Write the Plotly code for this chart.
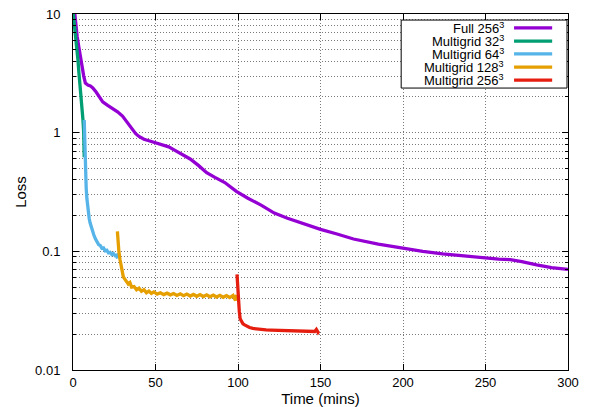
import plotly.graph_objects as go

# ---- data ----
full_t = [0.5, 1.5, 2.5, 3.5, 4.5, 5.5, 6.5, 7.5, 9, 10.5, 12, 14, 16, 18, 21, 24, 27, 30, 33, 36, 38, 40,
          43, 46, 49, 52, 55, 58, 61, 64, 67, 71, 76, 81, 86, 92, 99, 106, 114, 122, 130, 140, 150, 160,
          170, 185, 200, 212, 224, 237, 250, 258, 265, 272, 281, 290, 300]
full_v = [12, 8.5, 6.5, 5.3, 4.3, 3.6, 3.0, 2.62, 2.52, 2.48, 2.38, 2.2, 2.0, 1.82, 1.7, 1.6, 1.5, 1.38,
          1.22, 1.06, 0.98, 0.93, 0.88, 0.855, 0.83, 0.81, 0.79, 0.76, 0.72, 0.68, 0.645, 0.6, 0.53, 0.46,
          0.42, 0.38, 0.32, 0.28, 0.245, 0.21, 0.19, 0.17, 0.153, 0.14, 0.127, 0.115, 0.106, 0.1, 0.095,
          0.091, 0.0875, 0.086, 0.085, 0.082, 0.077, 0.073, 0.0705]

mg32_t = [0, 0.5, 1, 1.5, 2, 2.5, 3, 3.5, 4, 4.5, 5, 5.5, 6, 6.5, 6.8]
mg32_v = [10.5, 9.0, 8.2, 7.0, 6.2, 5.0, 4.1, 3.3, 2.8, 2.3, 1.9, 1.6, 1.3, 1.0, 0.62]

mg64_t = [6.8, 7.0, 7.3, 7.6, 8.0, 8.4, 8.8, 9.3, 9.8, 10.3, 11, 11.8, 12.6, 13.5, 14.5, 15.5, 16.5,
          17.5, 18.5, 19.5, 20.5, 21.5, 22.5, 23.5, 24.5, 25.5, 26.5, 27]
mg64_v = [1.28, 0.95, 0.62, 0.45, 0.34, 0.28, 0.24, 0.215, 0.19, 0.175, 0.16, 0.148, 0.138, 0.128, 0.121,
          0.114, 0.112, 0.106, 0.107, 0.101, 0.102, 0.097, 0.098, 0.094, 0.096, 0.092, 0.093, 0.087]

mg128_t = [26.9, 27.3, 27.8, 28.5, 29.5, 30.5, 31.5, 32.5, 33.5, 34.5, 35.5, 37, 38.5, 40, 41.5, 43,
           44.5, 46, 47.5, 49, 51, 53, 55, 57, 59, 61, 63, 65, 67, 69, 71, 73, 75, 77, 79, 81, 83, 85,
           87, 89, 91, 93, 95, 97, 98.5, 99.2]
mg128_v = [0.147, 0.12, 0.1, 0.085, 0.07, 0.061, 0.058, 0.056, 0.053, 0.0545, 0.05, 0.0505, 0.0475,
           0.049, 0.046, 0.0475, 0.0448, 0.0462, 0.0442, 0.0455, 0.0436, 0.0448, 0.0432, 0.0444, 0.043,
           0.0441, 0.0425, 0.0438, 0.0423, 0.0436, 0.042, 0.0433, 0.0418, 0.0432, 0.0416, 0.043, 0.0414,
           0.0428, 0.0412, 0.0426, 0.041, 0.0424, 0.0408, 0.0425, 0.0385, 0.043]

mg256_t = [99.4, 99.8, 100.3, 100.8, 101.3, 102, 103, 104, 105.5, 107, 109, 111, 114, 117, 120, 124,
           128, 132, 136, 140, 144, 146.5, 147.5, 148.5, 149]
mg256_v = [0.064, 0.05, 0.038, 0.031, 0.027, 0.0255, 0.0245, 0.024, 0.0232, 0.0228, 0.0224, 0.0222,
           0.022, 0.0218, 0.0217, 0.0216, 0.0215, 0.0214, 0.0214, 0.0213, 0.0212, 0.0211, 0.0220, 0.0208,
           0.0213]

series_names = ["Full 256<sup>3</sup>", "Multigrid 32<sup>3</sup>", "Multigrid 64<sup>3</sup>",
                "Multigrid 128<sup>3</sup>", "Multigrid 256<sup>3</sup>"]
series_colors = ["#9400d3", "#009e73", "#56b4e9", "#e69f00", "#e51e10"]
series_data = [(full_t, full_v), (mg32_t, mg32_v), (mg64_t, mg64_v), (mg128_t, mg128_v), (mg256_t, mg256_v)]

x_ticks = [0, 50, 100, 150, 200, 250, 300]
y_ticks = [0.01, 0.1, 1, 10]
y_ticklabels = ["0.01", "0.1", "1", "10"]
y_minor = [m * 10.0 ** e for e in (-2, -1, 0) for m in range(2, 10)]

FONT = "Liberation Sans, Arial, sans-serif"
GRIDC = "#7a7a7a"
GRIDDASH = "1px,2px"

fig = go.Figure()
for (t, v), name, col in zip(series_data, series_names, series_colors):
    fig.add_trace(go.Scatter(x=t, y=v, mode="lines", name=name,
                             line=dict(color=col, width=3.3), showlegend=False))

grid = dict(showgrid=True, gridcolor=GRIDC, griddash=GRIDDASH, gridwidth=1)

fig.update_layout(
    width=589, height=407,
    margin=dict(l=73, r=21, t=14, b=37),
    paper_bgcolor="white", plot_bgcolor="white",
    font=dict(family=FONT, size=13, color="black"),
    xaxis=dict(range=[0, 300], tickvals=x_ticks, ticks="inside", ticklen=6, tickcolor="black",
               showline=True, mirror="allticks", linecolor="black", linewidth=1, zeroline=False,
               automargin=False,
               title=dict(text="Time (mins)", font=dict(size=15), standoff=0), **grid),
    yaxis=dict(type="log", range=[-2, 1], tickvals=y_ticks, ticktext=y_ticklabels, ticks="inside",
               ticklen=6, tickcolor="black", showline=True, mirror="allticks", linecolor="black",
               linewidth=1, zeroline=False, automargin=False, ticklabelstandoff=9,
               minor=dict(tickvals=y_minor, ticks="inside", ticklen=3, tickcolor="black",
                          showgrid=True, gridcolor=GRIDC, griddash=GRIDDASH),
               title=dict(text="Loss", font=dict(size=15), standoff=4), **grid),
)

# custom legend (text right-aligned, sample line on the right, gnuplot style)
fig.add_shape(type="rect", xref="paper", yref="paper", x0=0.663, x1=0.998, y0=0.792, y1=0.983,
              line=dict(color="black", width=1), fillcolor="white", layer="above")
row_y = [0.961, 0.924, 0.888, 0.851, 0.814]
for name, col, yy in zip(series_names, series_colors, row_y):
    fig.add_annotation(xref="paper", yref="paper", x=0.875, y=yy, text=name, showarrow=False,
                       xanchor="right", yanchor="middle", font=dict(size=13, color="black"))
    fig.add_shape(type="line", xref="paper", yref="paper", x0=0.891, x1=0.968, y0=yy, y1=yy,
                  line=dict(color=col, width=3.3), layer="above")

fig.write_html("out.html")
